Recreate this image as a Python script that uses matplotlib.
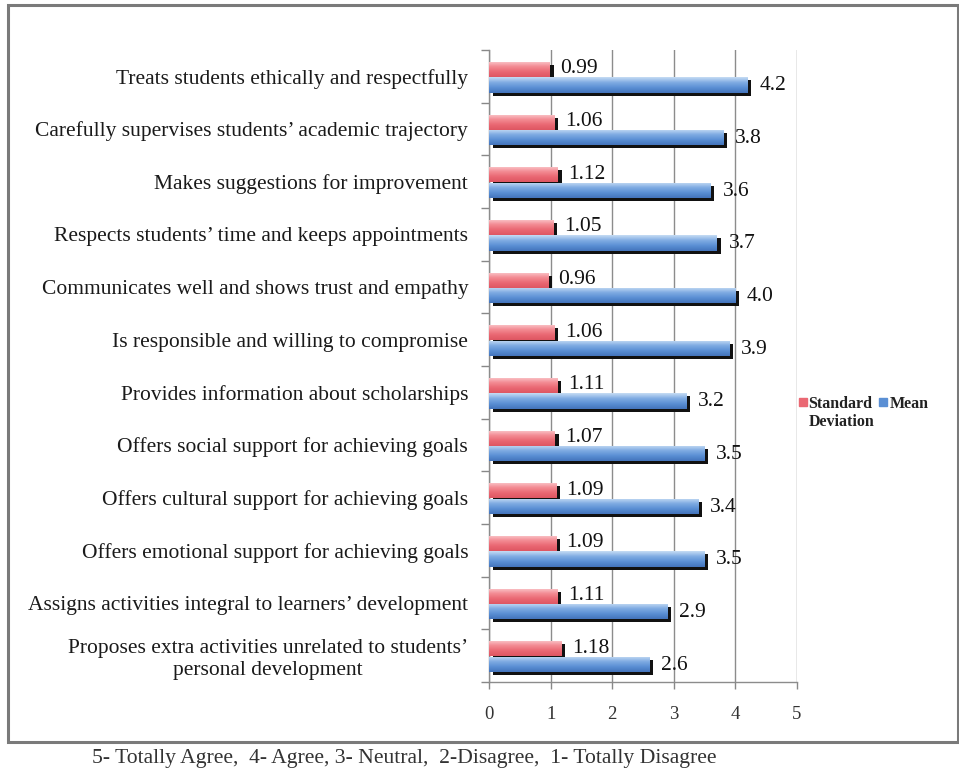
import numpy as np
import matplotlib
matplotlib.use("Agg")
import matplotlib.pyplot as plt
import matplotlib.patheffects as pe
from matplotlib.colors import LinearSegmentedColormap
from matplotlib.patches import Rectangle
from matplotlib.lines import Line2D

# survey items, top to bottom
categories = [
    "Treats students ethically and respectfully",
    "Carefully supervises students\u2019 academic trajectory",
    "Makes suggestions for improvement",
    "Respects students\u2019 time and keeps appointments",
    "Communicates well and shows trust and empathy",
    "Is responsible and willing to compromise",
    "Provides information about scholarships",
    "Offers social support for achieving goals",
    "Offers cultural support for achieving goals",
    "Offers emotional support for achieving goals",
    "Assigns activities integral to learners\u2019 development",
    "Proposes extra activities unrelated to students\u2019\npersonal development",
]
std_dev = [0.99, 1.06, 1.12, 1.05, 0.96, 1.06, 1.11, 1.07, 1.09, 1.09, 1.11, 1.18]
means = [4.2, 3.8, 3.6, 3.7, 4.0, 3.9, 3.2, 3.5, 3.4, 3.5, 2.9, 2.6]
mean_labels = ["4.2", "3.8", "3.6", "3.7", "4.0", "3.9", "3.2", "3.5", "3.4", "3.5", "2.9", "2.6"]
x_ticks = [0, 1, 2, 3, 4, 5]
footnote = "5- Totally Agree,  4- Agree, 3- Neutral,  2-Disagree,  1- Totally Disagree"

plt.rcParams['font.family'] = ['Liberation Serif', 'DejaVu Serif']

fig = plt.figure(figsize=(9.59, 7.79), dpi=100)
ax = fig.add_axes([489 / 959, 1 - 682 / 779, (797 - 489) / 959, (682 - 50) / 779])

red_cmap = LinearSegmentedColormap.from_list("red", ["#fbc8cc", "#f38c94", "#ea6873", "#de5662"])
blue_cmap = LinearSegmentedColormap.from_list("blue", ["#c6dcf4", "#80ace3", "#5a8fd4", "#4474bc"])

y = np.arange(len(categories))
h = 0.29
shadow = [pe.SimplePatchShadow(offset=(2.6, -2.2), shadow_rgbFace='#111111', alpha=1.0), pe.Normal()]

red_bars = ax.barh(y - 0.13, std_dev, height=h, color="#ea6873", zorder=2)
blue_bars = ax.barh(y + 0.165, means, height=h, color="#5a8fd4", zorder=2)

# vertical gradient on each bar, light at the top
grad = np.linspace(0, 1, 64).reshape(-1, 1)
for bars, cmap in [(red_bars, red_cmap), (blue_bars, blue_cmap)]:
    for b in bars:
        b.set_path_effects(shadow)
        x0, y0, w, hh = b.get_x(), b.get_y(), b.get_width(), b.get_height()
        im = ax.imshow(grad, extent=(x0, x0 + w, y0 + hh, y0), origin='upper',
                       aspect='auto', cmap=cmap, zorder=3, interpolation='bilinear')
        im.set_clip_path(b)

for i in range(len(categories)):
    ax.text(std_dev[i] + 0.17, y[i] - 0.14, f"{std_dev[i]:.2f}", va='center', ha='left',
            fontsize=15.5, color='#111111', zorder=4)
    ax.text(means[i] + 0.19, y[i] + 0.18, mean_labels[i], va='center', ha='left',
            fontsize=15.5, color='#111111', zorder=4)

ax.set_xlim(0, 5)
ax.set_ylim(len(categories) - 0.5, -0.5)

ax.set_xticks(x_ticks)
ax.set_xticklabels([str(t) for t in x_ticks], fontsize=13.5, color='#333333')
ax.tick_params(axis='x', length=5, width=1, color='#888888', pad=12)

ax.set_yticks(np.arange(-0.5, len(categories), 1))
ax.set_yticklabels([])
ax.tick_params(axis='y', which='major', length=6, width=1, color='#888888')
ax.set_yticks(y, minor=True)
ax.set_yticklabels(categories, minor=True, fontsize=15.5, color='#1a1a1a', multialignment='center')
ax.tick_params(axis='y', which='minor', length=0, pad=15)

ax.grid(axis='x', color='#8c8c8c', linewidth=1)
ax.set_axisbelow(True)
for s in ['top', 'right']:
    ax.spines[s].set_visible(False)
for s in ['left', 'bottom']:
    ax.spines[s].set_color('#8c8c8c')
    ax.spines[s].set_linewidth(1)

# legend: first line of each entry next to its marker, "Deviation" wraps below
handles = [Line2D([], [], marker='s', linestyle='none', markersize=6, color="#ea6873"),
           Line2D([], [], marker='s', linestyle='none', markersize=6, color="#5a8fd4")]
leg_font = {'family': 'Liberation Serif', 'weight': 'bold', 'size': 11.5}
leg = fig.legend(handles, ["Standard", "Mean"], ncol=2, loc='center left',
                 bbox_to_anchor=(791 / 959, 1 - 404 / 779), frameon=False, prop=leg_font,
                 handlelength=0.45, handletextpad=0.15, columnspacing=0.45, borderpad=0)
for t in leg.get_texts():
    t.set_color('#222222')
fig.canvas.draw()
std_text = leg.get_texts()[0]
bb = std_text.get_window_extent().transformed(fig.transFigure.inverted())
fig.text(bb.x0, bb.y0 - 2 / 779, "Deviation", ha='left', va='top', color='#222222', **{
    'fontfamily': leg_font['family'], 'fontweight': 'bold', 'fontsize': leg_font['size']})

fig.add_artist(Rectangle((8 / 959, 1 - 742 / 779), 950 / 959, 737 / 779, transform=fig.transFigure,
                         fill=False, edgecolor='#7a7a7a', linewidth=2.2))

fig.text(92 / 959, 1 - 758 / 779, footnote, fontsize=15.6, color='#333333', va='center', ha='left')

fig.savefig("out.png", dpi=100)
